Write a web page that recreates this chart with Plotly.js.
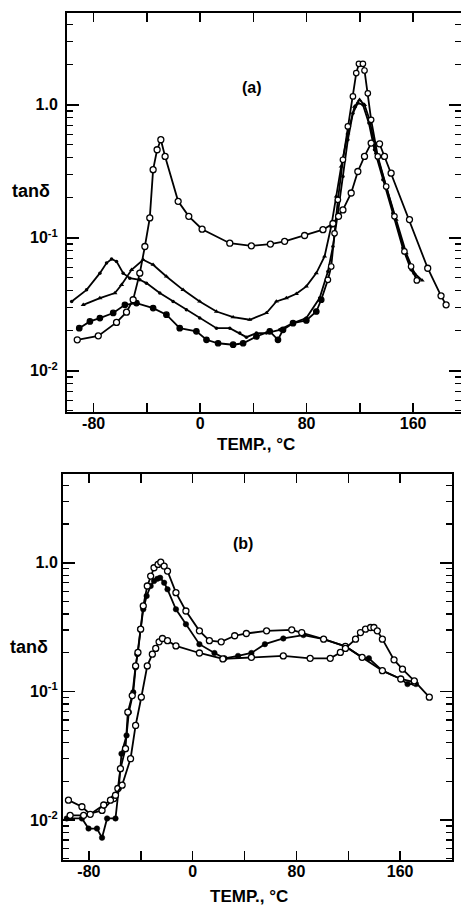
<!DOCTYPE html>
<html>
<head>
<meta charset="utf-8">
<script src="https://cdn.plot.ly/plotly-3.0.1.min.js"></script>
<style>html,body{margin:0;padding:0;background:#fff;}#chart{width:461px;height:906px;}</style>
</head>
<body>
<div id="chart"></div>
<script>
// ---------- Panel (a) data: temperature (°C) and tan δ ----------
const a1T = [-92.3,-76.5,-62.8,-55.3,-50.3,-45.3,-41.5,-37.8,-35.3,-32.3,-29.5,-26.3,-16.5,-8.5,1.5,22.3,38.5,52.8,63.5,78.5,92.3,99.8,104,107.3,113.5,118.5,123.5,128.5,134.8,138.5,143.5,157.3,171,181,184.8];
const a1V = [0.0171,0.0183,0.0231,0.0276,0.0342,0.0542,0.086,0.141,0.325,0.459,0.546,0.409,0.188,0.145,0.116,0.091,0.087,0.0896,0.094,0.104,0.115,0.128,0.145,0.162,0.217,0.315,0.409,0.515,0.509,0.409,0.306,0.137,0.059,0.0366,0.0313];

const a2T = [-96.5,-85.3,-75.3,-70.3,-66.5,-62.8,-57.8,-52.8,-45.3,-40.3,-30.3,-20.3,-10.3,-0.3,12.3,22.3,29.8,34.8,42.3,49.8,59.8,69.8,79.8,89.8,96,99.8,103.5,107.3,111,114.8,118.5,122.3,126.8,131,137.3,144.8,152.3,158.5,163.5];
const a2V = [0.0332,0.0406,0.0542,0.0645,0.0692,0.0664,0.0542,0.0497,0.0483,0.0456,0.0384,0.0332,0.0288,0.0249,0.0209,0.0209,0.0192,0.0179,0.0192,0.0192,0.0203,0.0228,0.0249,0.0352,0.0558,0.086,0.153,0.289,0.546,0.865,1.03,1.0,0.728,0.459,0.273,0.153,0.0836,0.0574,0.0483];

const a3T = [-87.8,-75.3,-64,-59,-51.5,-42.8,-35.3,-25.3,-12.8,-0.3,12.3,24.8,37.3,49.8,57.3,64.8,72.3,79.8,87.3,93.5,98.5,102.3,106,111,116,119.8,123.5,127.3,132.3,139.8,147.3,154.8,161,166.8];
const a3V = [0.0313,0.0352,0.0384,0.0443,0.0574,0.0684,0.0627,0.0512,0.0406,0.0332,0.0279,0.0253,0.0242,0.0272,0.0332,0.0352,0.0379,0.0431,0.0542,0.0724,0.122,0.205,0.344,0.612,0.97,1.09,1.0,0.771,0.433,0.243,0.137,0.0767,0.0542,0.0478];

const a4T = [-90.8,-82.8,-75.3,-65.3,-56.5,-47.8,-35.3,-25.3,-15.3,-2.8,4.8,13.5,24.8,32.3,42.3,52.3,58.5,62.3,69.8,79.8,87.3,91,96,98.5,101,103.5,107.3,111,114.8,117.3,119.3,122.3,123.5,126,128.5,133.5,139.8,146,153.5,158.5,162.8];
const a4V = [0.0209,0.0235,0.0249,0.0272,0.0313,0.0323,0.0296,0.0264,0.0209,0.0198,0.0171,0.0161,0.0157,0.0161,0.0181,0.0198,0.0171,0.0203,0.0228,0.0239,0.0279,0.0342,0.0483,0.0608,0.108,0.193,0.386,0.687,1.155,1.73,2.03,2.03,1.81,1.22,0.771,0.409,0.243,0.145,0.079,0.0608,0.0478];

// ---------- Panel (b) data ----------
const b1T = [-94.5,-84.1,-69.9,-60.8,-57.7,-55.7,-51.8,-50.0,-46.6,-44.0,-42.2,-40.1,-38.1,-35.0,-32.4,-29.8,-26.7,-24.6,-22.0,-19.4,-12.9,-5.2,5.2,12.9,22.0,32.4,41.4,57.0,76.4,84.1,101.0,117.8,130.7,146.3,160.5,170.9];
const b1V = [0.0109,0.0109,0.0119,0.0147,0.0176,0.0251,0.0359,0.069,0.0929,0.158,0.201,0.305,0.462,0.660,0.788,0.915,0.971,1.01,0.942,0.862,0.586,0.422,0.296,0.248,0.243,0.271,0.282,0.296,0.301,0.287,0.255,0.224,0.184,0.145,0.125,0.118];

const b2T = [-97.1,-85.4,-80.3,-73.8,-69.9,-66.0,-59.5,-57.0,-54.9,-51.0,-49.2,-45.8,-44.0,-42.7,-40.6,-38.1,-35.5,-32.4,-29.8,-27.2,-25.1,-22.0,-19.4,-12.9,-5.2,5.2,16.8,24.6,35.0,45.3,55.7,69.9,85.4,101.0,117.8,130.7,135.9,146.3,160.5,165.7,172.2];
const b2V = [0.0103,0.0103,0.0086,0.0086,0.0073,0.0103,0.0103,0.0176,0.0328,0.0455,0.069,0.0985,0.154,0.195,0.305,0.435,0.552,0.660,0.721,0.751,0.765,0.700,0.622,0.435,0.333,0.233,0.199,0.181,0.189,0.199,0.233,0.258,0.274,0.255,0.224,0.184,0.181,0.145,0.125,0.114,0.114];

const b3T = [-95.8,-85.4,-79.0,-68.6,-63.4,-59.5,-54.4,-47.9,-44.0,-39.6,-35.0,-31.1,-28.5,-25.9,-23.3,-19.4,-12.9,5.2,23.3,45.3,69.9,90.6,106.1,113.9,117.8,125.6,129.4,133.3,137.2,139.8,142.4,146.3,155.3,161.8,170.9,182.5];
const b3V = [0.0143,0.0127,0.0111,0.0131,0.0143,0.0156,0.0187,0.030,0.0544,0.0902,0.158,0.195,0.216,0.243,0.258,0.248,0.226,0.199,0.179,0.184,0.189,0.181,0.181,0.201,0.216,0.255,0.287,0.305,0.314,0.314,0.296,0.255,0.176,0.149,0.121,0.0902];

// ---------- Axis ticks ----------
const xTickVals = [-80,0,80,160];
const xTickText = ['-80','0','80','160'];
const xMinorVals = [-40,40,120];
const yTickVals = [0.01,0.1,1];
const yTickText = ['10<sup>-2</sup>','10<sup>-1</sup>','1.0'];

const W = 461, H = 906;
const FONT = 'Liberation Sans, Arial, Helvetica, sans-serif';
const minorVals = [];
for (let k = -3; k <= 0; k++) for (let d = 2; d <= 9; d++) minorVals.push(d * Math.pow(10, k));

const openM = {symbol:'circle', size:6, color:'white', line:{color:'black', width:1.3}};
const fillM = {symbol:'circle', size:5.5, color:'black', line:{color:'black', width:0.5}};
const lineS = {color:'black', width:1.8};

function tr(x, y, marker, xa, ya) {
  return {x:x, y:y, type:'scatter', mode:'lines+markers', line:lineS, marker:marker, xaxis:xa, yaxis:ya, showlegend:false, hoverinfo:'skip'};
}

const a4Marker = {symbol:'circle', size:5.5, color:a4T.map(t => t > 94 ? 'white' : 'black'), line:{color:'black', width:1.2}};

const data = [
  tr(a2T, a2V, {symbol:'circle', size:3.5, color:'black'}, 'x', 'y'),
  tr(a3T, a3V, {symbol:'triangle-up', size:4.5, color:'black'}, 'x', 'y'),
  tr(a4T, a4V, a4Marker, 'x', 'y'),
  tr(a1T, a1V, openM, 'x', 'y'),
  tr(b2T, b2V, fillM, 'x2', 'y2'),
  tr(b1T, b1V, openM, 'x2', 'y2'),
  tr(b3T, b3V, openM, 'x2', 'y2')
];

const tickFont = {family:FONT, size:16, color:'black', weight:'bold'};

function xax(domain, range, anchor) {
  return {domain:domain, range:range, anchor:anchor, tickmode:'array', tickvals:xTickVals, ticktext:xTickText,
    ticks:'inside', ticklen:9, tickwidth:1.5, tickcolor:'black', showline:true, linewidth:2, linecolor:'black',
    mirror:'ticks', showgrid:false, zeroline:false, tickfont:tickFont,
    minor:{tickmode:'array', tickvals:xMinorVals, ticks:'inside', ticklen:9, tickwidth:1.5, tickcolor:'black', showgrid:false},
    ticklabelstandoff:-4, automargin:false, fixedrange:true};
}
function yax(domain, anchor, standoff) {
  return {domain:domain, type:'log', range:[-2.31, 0.69], anchor:anchor, tickmode:'array', tickvals:yTickVals, ticktext:yTickText,
    ticks:'inside', ticklen:12, tickwidth:1.5, tickcolor:'black', showline:true, linewidth:2, linecolor:'black',
    mirror:'ticks', showgrid:false, zeroline:false, tickfont:tickFont,
    minor:{tickmode:'array', tickvals:minorVals, ticks:'inside', ticklen:6, tickwidth:1.3, tickcolor:'black', showgrid:false},
    ticklabelstandoff:standoff, automargin:false, fixedrange:true};
}

function ann(text, px, py, size) {
  return {text:text, xref:'paper', yref:'paper', x:px / W, y:1 - py / H, xanchor:'center', yanchor:'middle',
    showarrow:false, font:{family:FONT, size:size, color:'black', weight:'bold'}};
}

const layout = {
  width:W, height:H, margin:{l:0, r:0, t:0, b:0}, paper_bgcolor:'white', plot_bgcolor:'white',
  xaxis: xax([67 / W, 1], [-100, 196], 'y'),
  yaxis: yax([1 - 412 / H, 1 - 13 / H], 'x', 4),
  xaxis2: xax([63 / W, 452 / W], [-100, 200], 'y2'),
  yaxis2: yax([1 - 860 / H, 1 - 474 / H], 'x2', 0),
  annotations: [
    ann('(a)', 252, 87, 16),
    ann('(b)', 243, 543, 16),
    ann('tanδ', 31, 191, 18),
    ann('tanδ', 29, 647, 18),
    ann('TEMP., °C', 256, 445, 17),
    ann('TEMP., °C', 249, 896, 17)
  ]
};

Plotly.newPlot('chart', data, layout, {staticPlot:true, displayModeBar:false});
</script>
</body>
</html>
